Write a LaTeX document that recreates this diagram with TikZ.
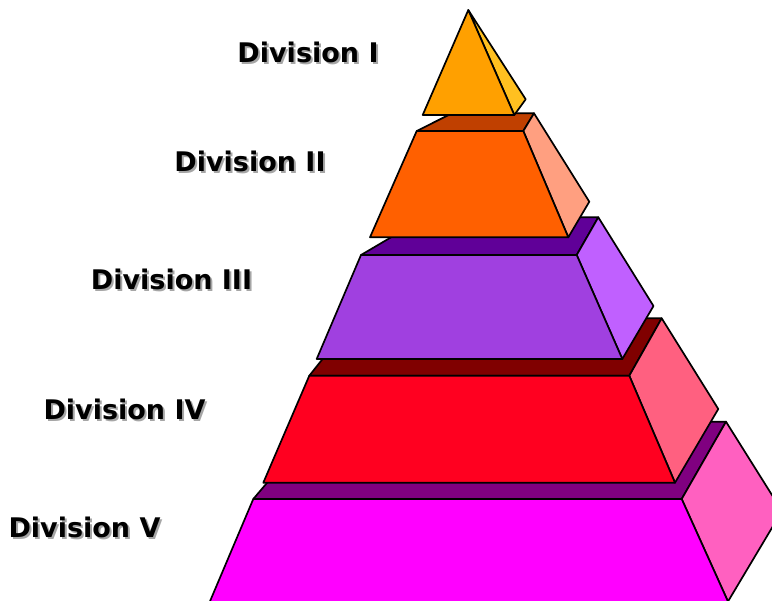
\documentclass[tikz,border=0pt]{standalone}
\usepackage{fontspec}
\setmainfont{DejaVu Sans}
\usepackage{xcolor}
\definecolor{divIf}{HTML}{FFA000}
\definecolor{divIs}{HTML}{FFC020}
\definecolor{divIIf}{HTML}{FF6000}
\definecolor{divIIt}{HTML}{C04000}
\definecolor{divIIs}{HTML}{FF9F80}
\definecolor{divIIIf}{HTML}{A040E0}
\definecolor{divIIIt}{HTML}{600098}
\definecolor{divIIIs}{HTML}{C060FF}
\definecolor{divIVf}{HTML}{FF0020}
\definecolor{divIVt}{HTML}{800000}
\definecolor{divIVs}{HTML}{FF6080}
\definecolor{divVf}{HTML}{FF00FF}
\definecolor{divVt}{HTML}{800080}
\definecolor{divVs}{HTML}{FF60C0}
\usepackage{tikz}
\newcommand{\dropshadow}[1]{\makebox[0pt][l]{\hspace{2pt}\raisebox{-2pt}{\color{black!35}#1}}#1}

\begin{document}
\begin{tikzpicture}[
  x=1pt, y=-1pt,
  font=\bfseries\fontsize{27}{27}\selectfont,
  face/.style={draw=black, line width=1.7pt, line join=round},
  lbl/.style={inner sep=0pt, anchor=center}
]
  \useasboundingbox (0,0) rectangle (772,601);
  \clip (0,0) rectangle (772,601);

  % Division V (bottom)
  \filldraw[face, fill=divVt] (253.3,499) -- (681.7,499) -- (726,421.7) -- (319,421.7) -- cycle;
  \filldraw[face, fill=divVs] (681.7,499) -- (726,421.7) -- (782,511) -- (728.3,601) -- (730,606) -- cycle;
  \filldraw[face, fill=divVf] (253.3,499) -- (681.7,499) -- (730,606) -- (208,606) -- cycle;

  % Division IV
  \filldraw[face, fill=divIVt] (309.3,375.7) -- (629.3,375.7) -- (661.7,318.3) -- (355,318.3) -- cycle;
  \filldraw[face, fill=divIVs] (629.3,375.7) -- (661.7,318.3) -- (718.3,409) -- (675,482.7) -- cycle;
  \filldraw[face, fill=divIVf] (309.3,375.7) -- (629.3,375.7) -- (675,482.7) -- (263.3,482.7) -- cycle;

  % Division III
  \filldraw[face, fill=divIIIt] (361,255) -- (576.7,255) -- (598.3,217.3) -- (425,217.3) -- cycle;
  \filldraw[face, fill=divIIIs] (576.7,255) -- (598.3,217.3) -- (653.5,306) -- (622.3,359) -- cycle;
  \filldraw[face, fill=divIIIf] (361,255) -- (576.7,255) -- (622.3,359) -- (316.7,359) -- cycle;

  % Division II
  \filldraw[face, fill=divIIt] (416.7,131) -- (523.3,131) -- (534,113.3) -- (452,113.3) -- cycle;
  \filldraw[face, fill=divIIs] (523.3,131) -- (534,113.3) -- (589.3,201.7) -- (568.3,237.3) -- cycle;
  \filldraw[face, fill=divIIf] (416.7,131) -- (523.3,131) -- (568.3,237.3) -- (370,237.3) -- cycle;

  % Division I (apex)
  \filldraw[face, fill=divIs] (468.3,10) -- (525.7,99.3) -- (514.3,115) -- cycle;
  \filldraw[face, fill=divIf] (468.3,10) -- (514.3,115) -- (422.7,115) -- cycle;

  % labels
  \foreach \name/\txt/\x/\y in {dI/Division I/308/53, dII/Division II/250/162,
      dIII/Division III/171.5/280, dIV/Division IV/124.5/410, dV/Division V/84.5/528} {
    \node[lbl] (\name) at (\x,\y) {\dropshadow{\txt}};
  }
\end{tikzpicture}
\end{document}
